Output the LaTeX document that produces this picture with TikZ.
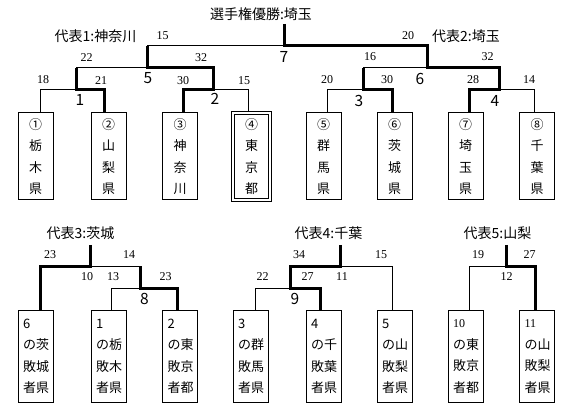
\documentclass[tikz,border=0pt]{standalone}
\usepackage{fontspec}
\setmainfont{Liberation Serif}
\newfontfamily\jp{Noto Sans CJK JP}
\tikzset{
  lnthin/.style={line width=1pt},
  lnthick/.style={line width=3pt},
  topbox/.style={draw, line width=1pt, inner sep=0pt, minimum width=35pt, minimum height=87pt,
    align=center, font=\jp\fontsize{13}{21.6}\selectfont},
  botbox/.style={draw, line width=1pt, inner xsep=5pt, inner ysep=0pt, text width=25pt, minimum height=92pt,
    align=left, font=\jp\fontsize{13}{21.5}\selectfont},
  score/.style={inner sep=0pt, font=\fontsize{12}{12}\selectfont},
  mnum/.style={inner sep=0pt, font=\jp\fontsize{15.5}{15.5}\selectfont},
  ttl/.style={inner sep=0pt, font=\jp\fontsize{14}{14}\selectfont}
}
\newcommand{\sn}[1]{{\normalfont\fontsize{12}{21.5}\selectfont #1}}
\begin{document}
\begin{tikzpicture}[x=1pt,y=-1pt]
\useasboundingbox[fill=white] (0,0) rectangle (569,411);

% top boxes
\node[topbox] (b1) at (35.5,156.5) {①\\栃\\木\\県};
\node[topbox] (b2) at (108.5,156.5) {②\\山\\梨\\県};
\node[topbox] (b3) at (180,156.5) {③\\神\\奈\\川};
\node[topbox, draw=none, minimum width=36pt, minimum height=86pt] (b4) at (251.5,156.5) {④\\東\\京\\都};
\draw[line width=1pt, double, double distance=2pt] (b4.south west) rectangle (b4.north east);
\node[topbox] (b5) at (323.5,156.5) {⑤\\群\\馬\\県};
\node[topbox] (b6) at (394.5,156.5) {⑥\\茨\\城\\県};
\node[topbox] (b7) at (465.5,156.5) {⑦\\埼\\玉\\県};
\node[topbox] (b8) at (537,156.5) {⑧\\千\\葉\\県};

% bottom boxes
\node[botbox] (c1) at (35.5,356.5) {6\\の茨\\敗城\\者県};
\node[botbox] (c2) at (108.5,356.5) {1\\の栃\\敗木\\者県};
\node[botbox] (c3) at (180,356.5) {2\\の東\\敗京\\者都};
\node[botbox] (c4) at (250.5,356.5) {3\\の群\\敗馬\\者県};
\node[botbox] (c5) at (323.5,356.5) {4\\の千\\敗葉\\者県};
\node[botbox] (c6) at (394.5,356.5) {5\\の山\\敗梨\\者県};
\node[botbox] (c7) at (465.5,356.5) {\sn{10}\\の東\\敗京\\者都};
\node[botbox] (c8) at (537,356.5) {\sn{11}\\の山\\敗梨\\者県};

% attachment points
\path (b1.north) ++(4.5,0) coordinate (t1);
\path (b2.north) ++(-4.5,0) coordinate (t2);
\path (b3.north) ++(3,0) coordinate (t3);
\path (b4.north) ++(-3.5,-2) coordinate (t4);
\path (b5.north) ++(3.5,0) coordinate (t5);
\path (b6.north) ++(-2.5,0) coordinate (t6);
\path (b7.north) ++(3.5,0) coordinate (t7);
\path (b8.north) ++(-3,0) coordinate (t8);
\path (c1.north) ++(4.5,0) coordinate (u1);
\path (c2.north) ++(2.5,0) coordinate (u2);
\path (c3.north) ++(-3,0) coordinate (u3);
\path (c4.north) ++(4.5,0) coordinate (u4);
\path (c5.north) ++(-3.5,0) coordinate (u5);
\path (c6.north) ++(-2.5,0) coordinate (u6);
\path (c7.north) ++(3.5,0) coordinate (u7);
\path (c8.north) ++(-2,0) coordinate (u8);

% match junctions
\coordinate (m1) at (76,90);
\coordinate (m2) at (213,90);
\coordinate (m3) at (363,90);
\coordinate (m4) at (499,90);
\coordinate (m5) at (147,68);
\coordinate (m6) at (427,68);
\coordinate (m7) at (284,46);
\coordinate (top7) at (284,24);
\coordinate (n8) at (140,288);
\coordinate (n9) at (290,288);
\coordinate (n10) at (90,266);
\coordinate (n11) at (340,266);
\coordinate (n12) at (506,266);
\coordinate (top10) at (90,245);
\coordinate (top11) at (340,245);
\coordinate (top12) at (506,245);

% thin lines (top)
\draw[lnthin] (t1) |- (m1);
\draw[lnthin] (m1 |- m5) -- (m5);
\draw[lnthin] (m5 |- m7) -- (m7);
\draw[lnthin] (m2) -| (t4);
\draw[lnthin] (t5) |- (m3);
\draw[lnthin] (m3 |- m6) -- (m6);
\draw[lnthin] (m4) -| (t8);
% thick lines (top)
\draw[lnthick] (top7) -- (m7) -| (m6) -| (m4) -| (t7);
\draw[lnthick] (m5 |- m7) -- (m5) -| (m2) -| (t3);
\draw[lnthick] (m1 |- m5) -- (m1) -| (t2);
\draw[lnthick] (m3 |- m6) -- (m3) -| (t6);

% bottom lines
\draw[lnthin] (n10) -- (n10 -| n8);
\draw[lnthin] (u2) |- (n8);
\draw[lnthick] (top10) -- (n10) -| (u1);
\draw[lnthick] (n10 -| n8) -- (n8) -| (u3);
\draw[lnthin] (n11) -| (u6);
\draw[lnthin] (u4) |- (n9);
\draw[lnthick] (top11) -- (n11) -| (n9) -| (u5);
\draw[lnthin] (u7) |- (n12);
\draw[lnthick] (top12) -- (n12) -| (u8);

% titles
\node[ttl] (tw) at (261,14) {選手権優勝:埼玉};
\node[ttl] (r1) at (95.5,36) {代表1:神奈川};
\node[ttl] (r2) at (466,36) {代表2:埼玉};
\node[ttl] (r3) at (80.5,233) {代表3:茨城};
\node[ttl] (r4) at (328.5,233) {代表4:千葉};
\node[ttl] (r5) at (497.5,233) {代表5:山梨};

% scores top
\node[score] (s1) at (162.5,36) {15};
\node[score] (s2) at (408,36) {20};
\node[score] (s3) at (86.5,57.5) {22};
\node[score] (s4) at (201,57.5) {32};
\node[score] (s5) at (370,57) {16};
\node[score] (s6) at (487.5,57) {32};
\node[score] (s7) at (43,80) {18};
\node[score] (s8) at (101,80.5) {21};
\node[score] (s9) at (183,80.5) {30};
\node[score] (s10) at (244,80.5) {15};
\node[score] (s11) at (327,80) {20};
\node[score] (s12) at (387,80) {30};
\node[score] (s13) at (473,80) {28};
\node[score] (s14) at (529,80) {14};
% match numbers top
\node[mnum] (g7) at (284,57) {7};
\node[mnum] (g5) at (148,78.5) {5};
\node[mnum] (g6) at (420,79) {6};
\node[mnum] (g1) at (80,100) {1};
\node[mnum] (g2) at (215,99) {2};
\node[mnum] (g3) at (359,101) {3};
\node[mnum] (g4) at (495,101) {4};

% scores bottom
\node[score] (p1) at (50,255) {23};
\node[score] (p2) at (129,255) {14};
\node[score] (g10) at (87,276.5) {10};
\node[score] (p3) at (113,276.5) {13};
\node[score] (p4) at (165.5,276.5) {23};
\node[mnum] (g8) at (144.5,299) {8};
\node[score] (p5) at (299,255) {34};
\node[score] (p6) at (381,255) {15};
\node[score] (p7) at (262.5,276.5) {22};
\node[score] (p8) at (307.5,276.5) {27};
\node[score] (g11) at (342,276.5) {11};
\node[mnum] (g9) at (295,299) {9};
\node[score] (p9) at (478,255) {19};
\node[score] (p10) at (529.5,255) {27};
\node[score] (g12) at (506.7,276.5) {12};
\end{tikzpicture}
\end{document}
